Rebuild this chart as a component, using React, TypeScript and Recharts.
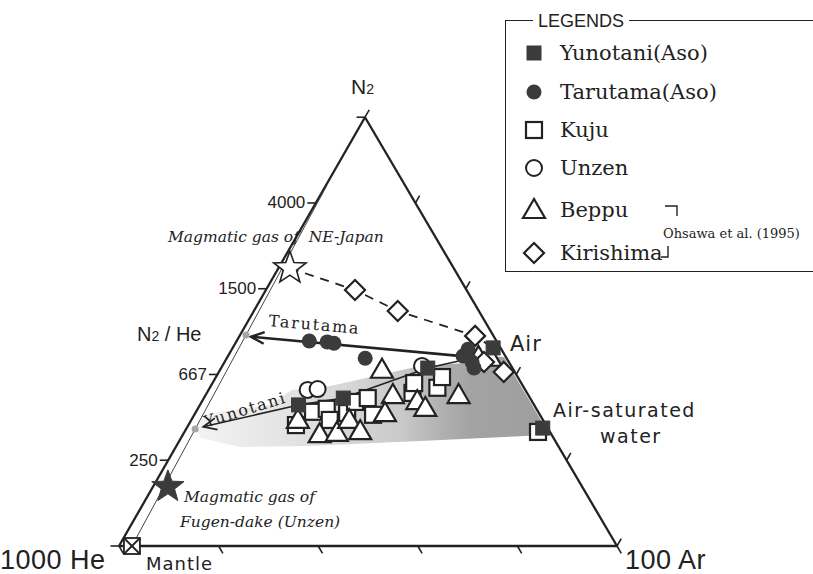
import React from "react";
import {
  ComposedChart,
  XAxis,
  YAxis,
  Area,
  Scatter,
  ReferenceLine,
} from "recharts";

// Ternary compositions: [N2 %, Ar %] of the (N2, 1000He, 100Ar) triangle.
const YUNOTANI = [[32.9, 19.8], [34.5, 28.0], [41.5, 41.5], [46.2, 52.3], [27.5, 71.5]];
const TARUTAMA = [[47.8, 14.6], [47.6, 18.3], [47.3, 19.8], [43.8, 27.8], [44.3, 47.2], [45.9, 47.4], [42.9, 49.7], [41.5, 50.8]];
const KUJU = [
  [28.2, 21.6], [31.3, 23.5], [32.0, 25.9], [29.4, 27.8], [31.0, 30.5], [33.6, 30.8], [34.5, 32.9],
  [30.6, 35.9], [35.7, 41.3], [38.0, 40.5], [36.9, 45.7], [39.4, 45.4], [26.6, 71.0],
];
const UNZEN = [[36.4, 19.9], [36.6, 21.8], [42.0, 40.1]];
const BEPPU = [
  [41.1, 32.5], [35.2, 37.6], [31.0, 38.1], [33.8, 43.2], [32.2, 45.6], [35.2, 50.8], [29.4, 21.4],
  [26.1, 27.4], [26.4, 30.7], [29.4, 31.7], [26.8, 35.2], [44.1, 50.4], [43.9, 52.9],
];
const KIRISHIMA = [[59.7, 17.9], [54.8, 28.9], [49.0, 47.3], [42.9, 52.1], [40.6, 57.2]];
const NE_JAPAN = [[64.8, 2.3]];
const FUGEN_DAKE = [[13.8, 3.0]];
const MANTLE = [[0, 2.6]];

const TARUTAMA_TREND = [[44.1, 48.7], [48.8, 2.4]];
const YUNOTANI_TREND = [[43.4, 47.7], [41.5, 41.5], [34.5, 28.0], [32.9, 19.8], [27.8, 3.2]];
const KIRISHIMA_TREND = [[64.8, 2.3], [59.7, 17.9], [54.8, 28.9], [49.0, 47.3], [46.2, 52.3]];
const N2HE_AXIS = [[0, 2.6], [84, 0.2]];
const N2HE_DOTS = [[27.3, 1.8], [49.2, 1.2]];

// mixing field outline (closed)
const MIXING_FIELD = [
  [27.3, 2.0], [30.8, 2.1], [32.9, 14.0], [36.4, 16.7], [37.3, 24.0], [42.0, 39.7], [42.7, 48.6],
  [44.3, 52.6], [44.0, 55.6], [26.6, 73.0], [25.9, 73.3], [24.5, 48.3], [23.3, 26.3], [23.1, 12.9],
  [25.2, 3.9], [27.3, 2.0],
];

const SIDE_TICKS = [0, 20, 40, 60, 80, 100];
const N2HE_TICKS = [20, 40, 60, 80];
const N2HE_LABELS = ["250", "667", "1500", "4000"];

// picture geometry
const W = 813;
const H = 574;
const PX = 4.98; // px per triangle unit
const X0 = 119; // He corner, px
const Y0 = 546;
const SKEW = 0.494;
const TALL = 0.861;
const TICK = 1.7;

const toXY = ([n2, ar]: number[]) => ({ x: ar + SKEW * n2, y: TALL * n2 });
const pxX = (x: number) => X0 + x * PX;
const pxY = (y: number) => Y0 - y * PX;

const INK = "#222";
const DARK = "#3b3b3b";
const SANS = "'Liberation Sans', Arial, sans-serif";
const DSANS = "'DejaVu Sans', sans-serif";
const SERIF = "'DejaVu Serif', serif";

const arrowHead = (tip: { x: number; y: number }, from: { x: number; y: number }) => {
  const dx = from.x - tip.x;
  const dy = from.y - tip.y;
  const len = Math.hypot(dx, dy);
  const ux = dx / len;
  const uy = dy / len;
  const r = (24 * Math.PI) / 180;
  const wing = (s: number) => ({
    x: tip.x + 2.9 * (ux * Math.cos(s * r) - uy * Math.sin(s * r)),
    y: tip.y + 2.9 * (ux * Math.sin(s * r) + uy * Math.cos(s * r)),
  });
  return [wing(-1), tip, wing(1)];
};

const starPath = (cx: number, cy: number, R: number, r: number) => {
  let d = "";
  for (let i = 0; i < 10; i++) {
    const rad = i % 2 === 0 ? R : r;
    const a = -Math.PI / 2 + (i * Math.PI) / 5;
    d += (i === 0 ? "M" : "L") + (cx + rad * Math.cos(a)).toFixed(2) + "," + (cy + rad * Math.sin(a)).toFixed(2);
  }
  return d + "Z";
};

const FilledSquare = ({ cx, cy }: any) => (
  <rect x={cx - 7} y={cy - 7} width={14} height={14} fill={DARK} stroke={DARK} strokeWidth={1} />
);
const FilledCircle = ({ cx, cy }: any) => <circle cx={cx} cy={cy} r={7.5} fill={DARK} />;
const OpenSquare = ({ cx, cy }: any) => (
  <rect x={cx - 8} y={cy - 8} width={16} height={16} fill="#fff" stroke={INK} strokeWidth={2.2} />
);
const OpenCircle = ({ cx, cy }: any) => <circle cx={cx} cy={cy} r={8} fill="#fff" stroke={INK} strokeWidth={2} />;
const OpenTriangle = ({ cx, cy }: any) => (
  <polygon
    points={`${cx},${cy - 11} ${cx - 11},${cy + 8} ${cx + 11},${cy + 8}`}
    fill="#fff"
    stroke={INK}
    strokeWidth={2.2}
    strokeLinejoin="miter"
  />
);
const OpenDiamond = ({ cx, cy }: any) => (
  <polygon
    points={`${cx},${cy - 10} ${cx + 10},${cy} ${cx},${cy + 10} ${cx - 10},${cy}`}
    fill="#fff"
    stroke={INK}
    strokeWidth={2.2}
  />
);
const OpenStar = ({ cx, cy }: any) => (
  <path d={starPath(cx, cy, 17, 7)} fill="#fff" stroke={INK} strokeWidth={1.6} />
);
const FilledStar = ({ cx, cy }: any) => <path d={starPath(cx, cy, 17, 7)} fill={DARK} stroke={DARK} />;
const MantleBox = ({ cx, cy }: any) => (
  <g stroke={INK} strokeWidth={1.8} fill="#fff">
    <rect x={cx - 8} y={cy - 8} width={16} height={16} />
    <line x1={cx - 8} y1={cy - 8} x2={cx + 8} y2={cy + 8} />
    <line x1={cx + 8} y1={cy - 8} x2={cx - 8} y2={cy + 8} />
  </g>
);
const GreyDot = ({ cx, cy }: any) => <circle cx={cx} cy={cy} r={3.5} fill="#a5a5a5" />;
const Nothing = () => <g />;

const Txt = ({ x, y, size, font = SANS, style, children }: any) => (
  <div
    style={{
      position: "absolute",
      left: x,
      top: y,
      fontSize: size,
      fontFamily: font,
      lineHeight: 1,
      whiteSpace: "pre",
      color: INK,
      ...style,
    }}
  >
    {children}
  </div>
);

export default function App() {
  const field = MIXING_FIELD.map(toXY);
  const he = toXY([0, 0]);
  const ar = toXY([0, 100]);
  const n2 = toXY([100, 0]);
  const tarTrend = TARUTAMA_TREND.map(toXY);
  const yunTrend = YUNOTANI_TREND.map(toXY);
  const tarHead = arrowHead(tarTrend[tarTrend.length - 1], tarTrend[0]);
  const yunHead = arrowHead(yunTrend[yunTrend.length - 1], yunTrend[yunTrend.length - 2]);

  const leftTicks = SIDE_TICKS.map((t) => {
    const p = toXY([t, 0]);
    return [p, { x: p.x - TICK, y: p.y }];
  });
  const baseTicks = SIDE_TICKS.map((t) => {
    const p = toXY([0, t]);
    return [p, { x: p.x + TICK * 0.507, y: p.y - TICK * 0.862 }];
  });
  const rightTicks = SIDE_TICKS.map((t) => {
    const p = toXY([t, 100 - t]);
    return [p, { x: p.x + TICK * 0.498, y: p.y + TICK * 0.867 }];
  });

  const legendRows = [
    { label: "Yunotani(Aso)", Shape: FilledSquare, cy: 53 },
    { label: "Tarutama(Aso)", Shape: FilledCircle, cy: 92 },
    { label: "Kuju", Shape: OpenSquare, cy: 130 },
    { label: "Unzen", Shape: OpenCircle, cy: 168 },
    { label: "Beppu", Shape: OpenTriangle, cy: 210 },
    { label: "Kirishima", Shape: OpenDiamond, cy: 253 },
  ];

  return (
    <div style={{ position: "absolute", left: 0, top: 0, width: W, height: H, background: "#fff", overflow: "hidden" }}>
      <ComposedChart width={W} height={H} data={field} margin={{ top: 0, right: 0, bottom: 0, left: 0 }}>
        <defs>
          <linearGradient id="fieldFill" x1="0" y1="0" x2="1" y2="0">
            <stop offset="0%" stopColor="#f3f3f3" />
            <stop offset="28%" stopColor="#e2e2e2" />
            <stop offset="58%" stopColor="#cacaca" />
            <stop offset="70%" stopColor="#b0b0b0" />
            <stop offset="78%" stopColor="#a3a3a3" />
            <stop offset="100%" stopColor="#9e9e9e" />
          </linearGradient>
        </defs>
        <XAxis
          type="number"
          dataKey="x"
          hide
          allowDataOverflow
          domain={[-X0 / PX, (W - X0) / PX]}
        />
        <YAxis
          type="number"
          dataKey="y"
          hide
          allowDataOverflow
          domain={[(Y0 - H) / PX, Y0 / PX]}
        />
        <Area
          dataKey="y"
          type="linear"
          stroke="none"
          fill="url(#fieldFill)"
          fillOpacity={1}
          baseValue={0}
          dot={false}
          activeDot={false}
          isAnimationActive={false}
        />

        {/* triangle frame */}
        <ReferenceLine segment={[he, ar]} stroke={INK} strokeWidth={2.3} />
        <ReferenceLine segment={[he, n2]} stroke={INK} strokeWidth={2.3} />
        <ReferenceLine segment={[n2, ar]} stroke={INK} strokeWidth={2.3} />
        {[...leftTicks, ...baseTicks, ...rightTicks].map((s, i) => (
          <ReferenceLine key={`t${i}`} segment={s} stroke={INK} strokeWidth={1.6} />
        ))}

        {/* N2/He axis */}
        <Scatter
          data={N2HE_AXIS.map(toXY)}
          line={{ stroke: "#444", strokeWidth: 1 }}
          shape={Nothing}
          isAnimationActive={false}
        />

        {/* trend lines */}
        <Scatter
          data={KIRISHIMA_TREND.map(toXY)}
          line={{ stroke: INK, strokeWidth: 1.8, strokeDasharray: "9 7" }}
          shape={Nothing}
          isAnimationActive={false}
        />
        <Scatter data={yunTrend} line={{ stroke: INK, strokeWidth: 1.6 }} shape={Nothing} isAnimationActive={false} />
        <Scatter data={yunHead} line={{ stroke: INK, strokeWidth: 1.8 }} shape={Nothing} isAnimationActive={false} />
        <Scatter data={tarTrend} line={{ stroke: INK, strokeWidth: 2.6 }} shape={Nothing} isAnimationActive={false} />
        <Scatter data={tarHead} line={{ stroke: INK, strokeWidth: 2.4 }} shape={Nothing} isAnimationActive={false} />

        {/* samples */}
        <Scatter data={KUJU.map(toXY)} shape={OpenSquare} isAnimationActive={false} />
        <Scatter data={BEPPU.map(toXY)} shape={OpenTriangle} isAnimationActive={false} />
        <Scatter data={UNZEN.map(toXY)} shape={OpenCircle} isAnimationActive={false} />
        <Scatter data={KIRISHIMA.map(toXY)} shape={OpenDiamond} isAnimationActive={false} />
        <Scatter data={YUNOTANI.map(toXY)} shape={FilledSquare} isAnimationActive={false} />
        <Scatter data={TARUTAMA.map(toXY)} shape={FilledCircle} isAnimationActive={false} />
        <Scatter data={NE_JAPAN.map(toXY)} shape={OpenStar} isAnimationActive={false} />
        <Scatter data={FUGEN_DAKE.map(toXY)} shape={FilledStar} isAnimationActive={false} />
        <Scatter data={MANTLE.map(toXY)} shape={MantleBox} isAnimationActive={false} />
        <Scatter data={N2HE_DOTS.map(toXY)} shape={GreyDot} isAnimationActive={false} />
      </ComposedChart>

      {/* axis titles and annotations */}
      <Txt x={351} y={76} size={21}>
        N<span style={{ fontSize: 14 }}>2</span>
      </Txt>
      <Txt x={137} y={324} size={20}>
        N<span style={{ fontSize: 14 }}>2</span> / He
      </Txt>
      {N2HE_TICKS.map((t, i) => {
        const p = toXY([t, 0]);
        return (
          <Txt
            key={t}
            x={pxX(p.x - TICK) - 62}
            y={pxY(p.y) - 8.5}
            size={17}
            style={{ width: 60, textAlign: "right" }}
          >
            {N2HE_LABELS[i]}
          </Txt>
        );
      })}
      <Txt x={168} y={230} size={15.5} font={SERIF} style={{ fontStyle: "italic" }}>
        {"Magmatic gas of  NE-Japan"}
      </Txt>
      <Txt
        x={268}
        y={313}
        size={16}
        font={SERIF}
        style={{ letterSpacing: 1.8, transform: "rotate(5deg)", transformOrigin: "0 100%" }}
      >
        Tarutama
      </Txt>
      <Txt
        x={207}
        y={414}
        size={16}
        font={SERIF}
        style={{ letterSpacing: 1.8, transform: "rotate(-17deg)", transformOrigin: "0 100%" }}
      >
        Yunotani
      </Txt>
      <Txt x={510} y={334} size={21} font={DSANS} style={{ letterSpacing: 1 }}>
        Air
      </Txt>
      <Txt x={553} y={401} size={19} font={DSANS} style={{ letterSpacing: 1.5 }}>
        Air-saturated
      </Txt>
      <Txt x={600} y={427} size={19} font={DSANS} style={{ letterSpacing: 1.5 }}>
        water
      </Txt>
      <Txt x={184} y={490} size={15.5} font={SERIF} style={{ fontStyle: "italic" }}>
        Magmatic gas of
      </Txt>
      <Txt x={180} y={515} size={15.5} font={SERIF} style={{ fontStyle: "italic" }}>
        Fugen-dake (Unzen)
      </Txt>
      <Txt x={0} y={549} size={27} style={{ letterSpacing: 0.5, lineHeight: 0.85 }}>
        1000 He
      </Txt>
      <Txt x={146} y={555} size={18} font={DSANS} style={{ letterSpacing: 1 }}>
        Mantle
      </Txt>
      <Txt x={625} y={549} size={27} style={{ letterSpacing: 0.5, lineHeight: 0.85 }}>
        100 Ar
      </Txt>

      {/* legend */}
      <div
        style={{
          position: "absolute",
          left: 505,
          top: 20,
          width: 330,
          height: 252,
          border: `1.5px solid ${INK}`,
          boxSizing: "border-box",
        }}
      />
      <Txt x={533} y={12} size={18} style={{ background: "#fff", padding: "0 5px" }}>
        LEGENDS
      </Txt>
      <svg style={{ position: "absolute", left: 0, top: 0 }} width={W} height={H} pointerEvents="none">
        {legendRows.map(({ Shape, cy }) => (
          <Shape key={cy} cx={534} cy={cy} />
        ))}
        <polyline points="665,206 677,206 677,216" fill="none" stroke={INK} strokeWidth={1.4} />
        <polyline points="668,246 668,257 661,257" fill="none" stroke={INK} strokeWidth={1.4} />
      </svg>
      {legendRows.map(({ label, cy }) => (
        <Txt key={label} x={560} y={cy - 10} size={21} font={SERIF}>
          {label}
        </Txt>
      ))}
      <Txt x={663} y={227} size={13} font={SERIF}>
        Ohsawa et al. (1995)
      </Txt>
    </div>
  );
}
